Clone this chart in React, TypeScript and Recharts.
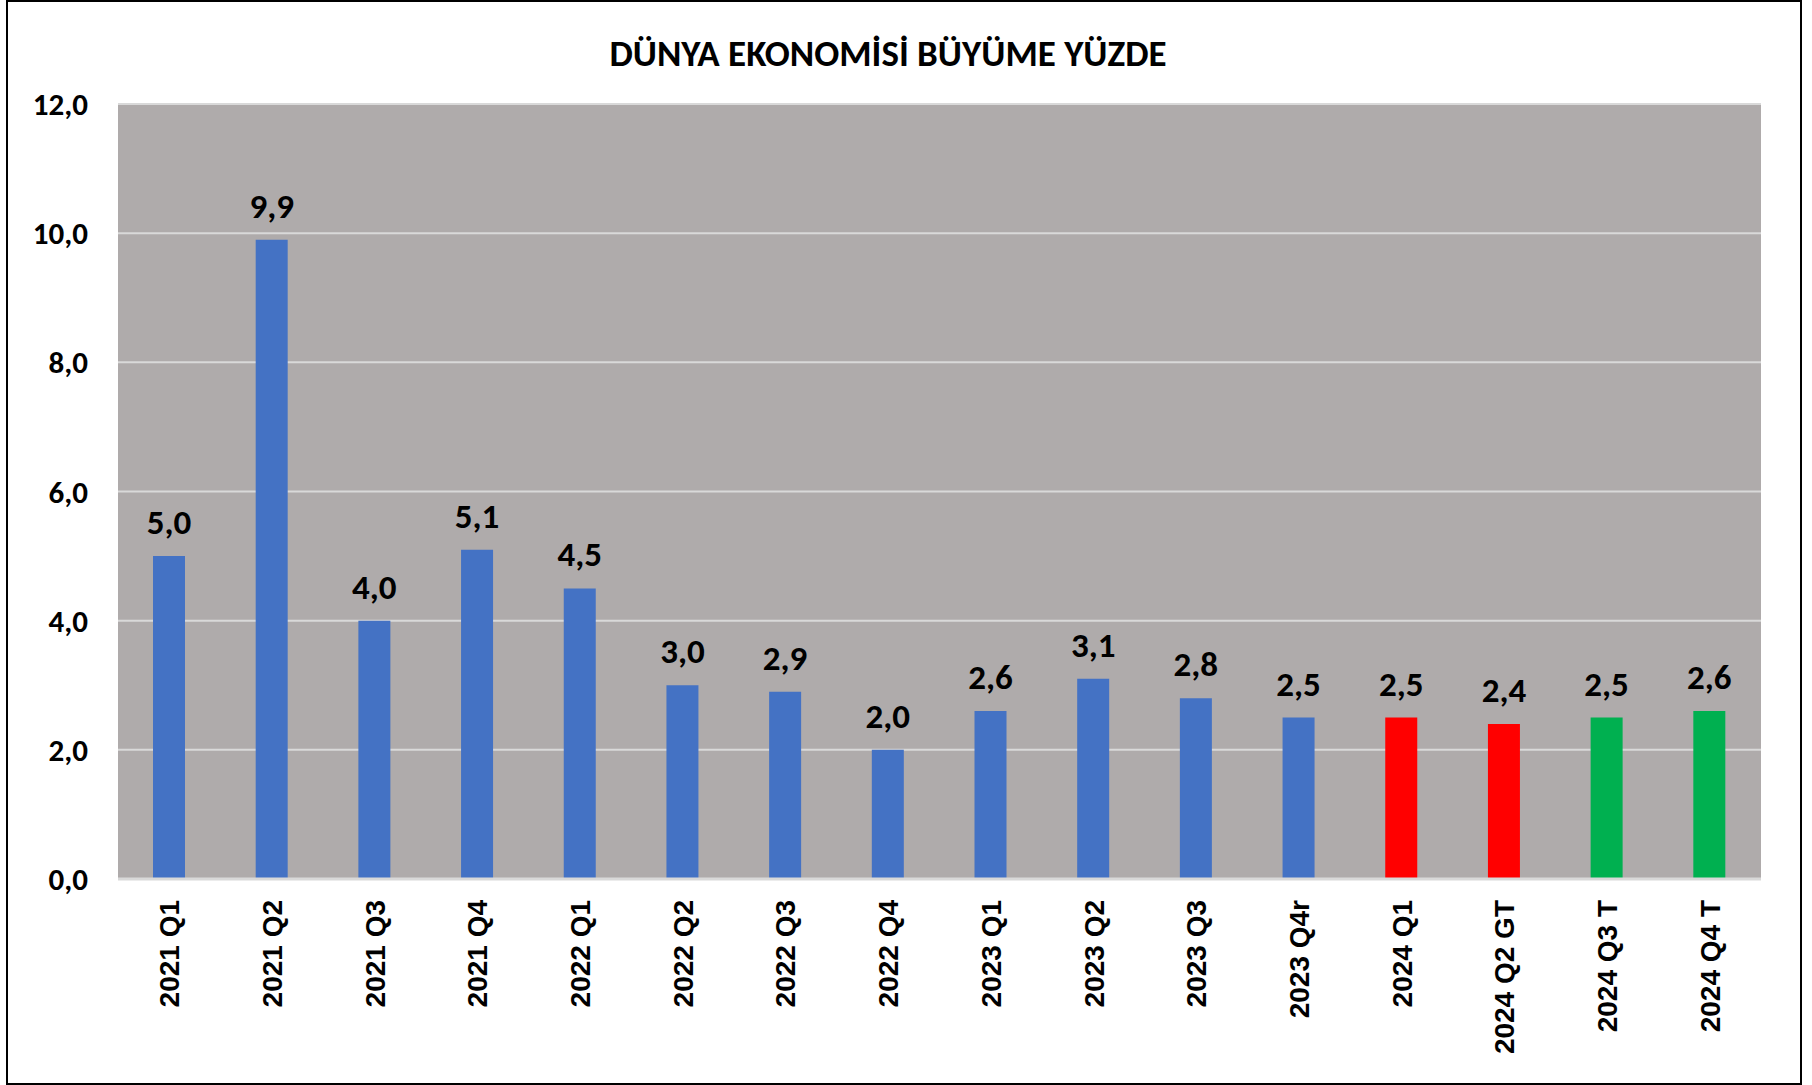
import React from 'react';
import { BarChart, Bar, XAxis, YAxis, CartesianGrid, Cell, LabelList } from 'recharts';

const categories = [
  '2021 Q1', '2021 Q2', '2021 Q3', '2021 Q4',
  '2022 Q1', '2022 Q2', '2022 Q3', '2022 Q4',
  '2023 Q1', '2023 Q2', '2023 Q3', '2023 Q4r',
  '2024 Q1', '2024 Q2 GT', '2024 Q3 T', '2024 Q4 T',
];
const growth = [5.0, 9.9, 4.0, 5.1, 4.5, 3.0, 2.9, 2.0, 2.6, 3.1, 2.8, 2.5, 2.5, 2.4, 2.5, 2.6];
const groups = [
  'gerceklesen', 'gerceklesen', 'gerceklesen', 'gerceklesen',
  'gerceklesen', 'gerceklesen', 'gerceklesen', 'gerceklesen',
  'gerceklesen', 'gerceklesen', 'gerceklesen', 'gerceklesen',
  'son', 'son', 'tahmin', 'tahmin',
];
const yTicks = [0, 2, 4, 6, 8, 10, 12];
const title = 'DÜNYA EKONOMİSİ BÜYÜME YÜZDE';

const groupColor: Record<string, string> = {
  gerceklesen: '#4472C4',
  son: '#FF0000',
  tahmin: '#00B050',
};

const data = categories.map((c, i) => ({ name: c, value: growth[i], group: groups[i] }));

const fmt = (v: number) => v.toFixed(1).replace('.', ',');

const CALIBRI = 'Carlito, Lato, "Open Sans", sans-serif';
const ARIAL = '"Liberation Sans", Arial, sans-serif';

const XTick = (props: any) => {
  const { x, y, payload } = props;
  const ax = x + 10;
  const ay = y + 21;
  return (
    <text
      x={ax}
      y={ay}
      transform={`rotate(-90, ${ax}, ${ay})`}
      textAnchor="end"
      fill="#000"
      fontSize={28}
      fontWeight={700}
      fontFamily={ARIAL}
    >
      {payload.value}
    </text>
  );
};

export default function App() {
  const W = 1792;
  const H = 1081;
  return (
    <div
      style={{
        position: 'absolute',
        left: 6,
        top: 0,
        width: 1796,
        height: 1085,
        boxSizing: 'border-box',
        border: '2px solid #000',
        background: '#fff',
      }}
    >
      <div style={{ position: 'relative', width: W, height: H }}>
        <BarChart
          width={W}
          height={H}
          data={data}
          margin={{ top: 102, right: 39, left: 0, bottom: 14 }}
        >
          <CartesianGrid
            vertical={false}
            stroke="#D9D9D9"
            strokeWidth={2}
            fill="#AFABAB"
            fillOpacity={1}
          />
          <XAxis
            dataKey="name"
            height={190}
            interval={0}
            tickLine={false}
            tickSize={0}
            tickMargin={0}
            axisLine={{ stroke: '#D9D9D9', strokeWidth: 3 }}
            tick={<XTick />}
          />
          <YAxis
            width={110}
            domain={[0, 12]}
            ticks={yTicks}
            interval={0}
            axisLine={false}
            tickLine={false}
            tickMargin={24}
            tickFormatter={fmt}
            tick={{ fill: '#000', fontSize: 31, fontWeight: 700, fontFamily: CALIBRI }}
          />
          <Bar dataKey="value" barSize={32} isAnimationActive={false}>
            {data.map((d, i) => (
              <Cell key={i} fill={groupColor[d.group]} />
            ))}
            <LabelList
              dataKey="value"
              position="top"
              offset={22}
              formatter={(v: any) => fmt(Number(v))}
              fill="#000"
              fontSize={35}
              fontWeight={700}
              fontFamily={CALIBRI}
            />
          </Bar>
        </BarChart>
        <svg
          width={W}
          height={100}
          style={{ position: 'absolute', left: 0, top: 0, pointerEvents: 'none' }}
        >
          <text
            x={880}
            y={64}
            textAnchor="middle"
            fill="#000"
            fontSize={37}
            fontWeight={700}
            fontFamily={CALIBRI}
          >
            {title}
          </text>
        </svg>
      </div>
    </div>
  );
}
